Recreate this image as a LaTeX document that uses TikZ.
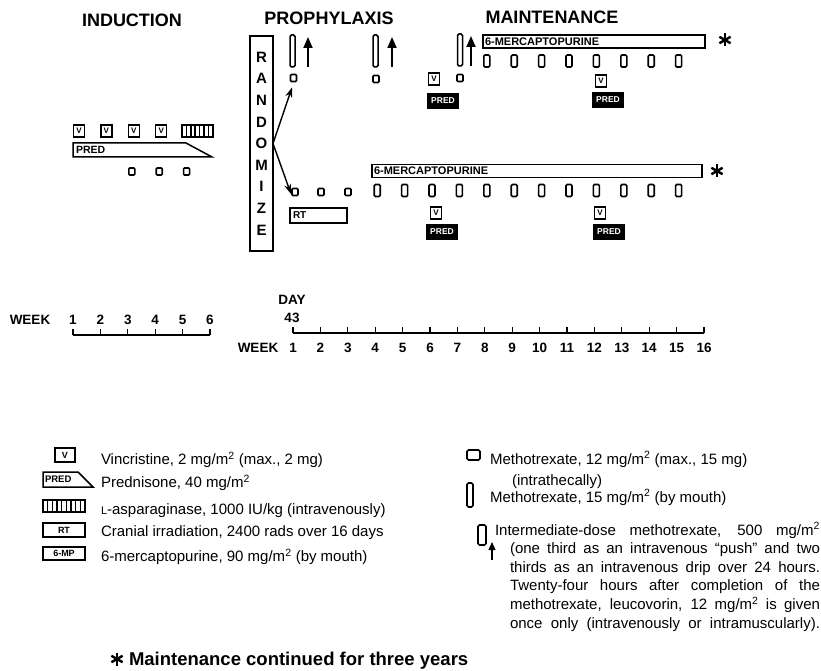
\documentclass[tikz,border=0pt]{standalone}
\usepackage{fontspec}
\setmainfont{Liberation Sans}
\usetikzlibrary{arrows.meta}
\begin{document}
\begin{tikzpicture}[x=1pt,y=-1pt,
  every node/.style={inner sep=0pt, outer sep=0pt},
  ttl/.style={font=\fontsize{18}{18}\selectfont\bfseries},
  axl/.style={font=\fontsize{13.5}{13.5}\selectfont\bfseries},
  leg/.style={font=\fontsize{15}{15}\selectfont, anchor=base west},
  ln/.style={line width=1.5pt},
  vbox/.style={draw, line width=1.4pt, minimum width=11pt, minimum height=12pt, font=\fontsize{8}{8}\selectfont\bfseries},
  predbox/.style={draw, fill=black, text=white, line width=1.2pt, minimum width=30pt, minimum height=15pt, font=\fontsize{8.5}{8.5}\selectfont\bfseries},
  itbox/.style={draw, line width=1.6pt, minimum width=6pt, minimum height=7pt, rounded corners=1pt},
  oralbar/.style={draw, line width=1.6pt, minimum width=6pt, minimum height=12pt, rounded corners=1.2pt},
  tallbar/.style={draw, line width=1.5pt, minimum width=5pt, minimum height=32pt, rounded corners=1.5pt},
  mpbar/.style={draw, line width=1.5pt, minimum height=13pt},
  mplab/.style={font=\fontsize{11}{11}\selectfont\bfseries, anchor=west},
  uparr/.style={line width=1.8pt, -{Triangle[width=9pt,length=11pt]}},
  randarr/.style={line width=1.4pt, -{Stealth[width=7pt,length=10pt]}},
  astline/.style={line width=2.4pt},
]
\useasboundingbox (0,0) rectangle (821,671);

% titles
\node[ttl] (tInd) at (132,20) {INDUCTION};
\node[ttl] (tPro) at (329,18) {PROPHYLAXIS};
\node[ttl] (tMain) at (552,17) {MAINTENANCE};

% ---------- induction ----------
\foreach \w in {1,2,3,4} {
  \pgfmathsetmacro\xx{73+(\w-1)*27.4+6}
  \node[vbox] (iv\w) at (\xx,131) {V};
}
\node[draw, ln, minimum width=31pt, minimum height=12pt] (iasp) at (197.5,131) {};
\foreach \k in {1,...,6}
  \draw[line width=1.6pt] ([xshift=\k*4.4pt]iasp.north west) -- ([xshift=\k*4.4pt]iasp.south west);
\draw[ln] (73,143) -- (186,143) -- (212,157) -- (73,157) -- cycle;
\node[anchor=west, font=\fontsize{10.5}{10.5}\selectfont\bfseries] (ipred) at (76,150) {PRED};
\foreach \w in {3,4,5} {
  \pgfmathsetmacro\xx{73+(\w-1)*27.4+4}
  \node[itbox] (iit\w) at (\xx,171.5) {};
}

% induction axis
\draw[ln] (73,335) -- (210,335);
\foreach \w in {1,...,6} {
  \pgfmathsetmacro\xx{73+(\w-1)*27.4}
  \draw[line width=1.3pt] (\xx,335) -- (\xx,329);
  \node[axl] (iw\w) at (\xx,320) {\w};
}
\node[axl] (iweek) at (30,320) {WEEK};

% ---------- randomize ----------
\node[draw, line width=1.5pt, minimum width=23pt, minimum height=215pt, align=center,
      font=\fontsize{15}{21.6}\selectfont\bfseries] (rand) at (261.5,143.5)
      {R\\A\\N\\D\\O\\M\\I\\Z\\E};

% ---------- upper arm ----------
\node[tallbar] (tb1) at (292.5,51) {};
\node[tallbar] (tb4) at (375.5,51) {};
\node[tallbar] (tb7) at (460,50) {};
\coordinate (a1s) at (308,67); \coordinate (a1e) at (308,37);
\coordinate (a4s) at (392,67); \coordinate (a4e) at (392,37);
\coordinate (a7s) at (471,66); \coordinate (a7e) at (471,36);
\draw[uparr] (a1s) -- (a1e);
\draw[uparr] (a4s) -- (a4e);
\draw[uparr] (a7s) -- (a7e);
\node[itbox] (itU1) at (293.5,78) {};
\node[itbox] (itU4) at (376,79) {};
\node[itbox] (itU7) at (460,78) {};
\node[vbox] (vU6) at (434,79) {V};
\node[predbox] (pU6) at (443,101) {PRED};

\node[mpbar, minimum width=222pt] (mpU) at (594,41.5) {};
\node[mplab] (mpUl) at ([xshift=2pt]mpU.west) {6-MERCAPTOPURINE};
\foreach \w in {8,...,15} {
  \pgfmathsetmacro\xx{293+(\w-1)*27.4+2}
  \node[oralbar] (orU\w) at (\xx,61) {};
}
\node[vbox] (vU12) at (601,81) {V};
\node[predbox] (pU12) at (608,100) {PRED};

% ---------- lower arm ----------
\node[itbox] (itL1) at (295,192) {};
\node[itbox] (itL2) at (321,192) {};
\node[itbox] (itL3) at (348,192) {};
\node[draw, ln, minimum width=57pt, minimum height=15pt] (rt) at (318.5,215.5) {};
\node[font=\fontsize{10}{10}\selectfont\bfseries, anchor=west] (rtl) at ([xshift=3pt]rt.west) {RT};

\node[mpbar, minimum width=330pt] (mpL) at (537,171) {};
\node[mplab] (mpLl) at ([xshift=2pt]mpL.west) {6-MERCAPTOPURINE};
\foreach \w in {4,...,15} {
  \pgfmathsetmacro\xx{293+(\w-1)*27.4+2}
  \node[oralbar] (orL\w) at (\xx,190.5) {};
}
\node[vbox] (vL6) at (436,213) {V};
\node[vbox] (vL12) at (600,213) {V};
\node[predbox] (pL6) at (442,232) {PRED};
\node[predbox] (pL12) at (609,232) {PRED};

% randomization arrows
\draw[randarr] (rand.east) -- ([xshift=-1.5pt,yshift=-6pt]itU1.south);
\draw[randarr] (rand.east) -- ([xshift=-1pt,yshift=-2pt]itL1.west);

% asterisks
\foreach \n/\x/\y in {astU/725/40, astL/717/171, astF/117/659} {
  \coordinate (\n) at (\x,\y);
  \foreach \a in {90,30,150}
    \draw[astline] (\n) ++(\a:6.5pt) -- ++(\a+180:13pt);
}

% maintenance axis
\draw[ln] (293,333) -- (704,333);
\foreach \w in {1,...,16} {
  \pgfmathsetmacro\xx{293+(\w-1)*27.4}
  \draw[line width=1.3pt] (\xx,333) -- (\xx,327);
  \node[axl] (mw\w) at (\xx,348) {\w};
}
\node[axl] (mweek) at (258,348) {WEEK};
\node[axl] (day) at (292,300) {DAY};
\node[axl] (d43) at (292,318) {43};

% ---------- legend left ----------
\node[draw, ln, minimum width=20pt, minimum height=14pt, font=\fontsize{9}{9}\selectfont\bfseries] (lgV) at (65,455) {V};
\draw[ln] (43,472) -- (78,472) -- (93,487) -- (43,487) -- cycle;
\node[anchor=west, font=\fontsize{9.5}{9.5}\selectfont\bfseries] (lgP) at (45,479.5) {PRED};
\node[draw, ln, minimum width=42pt, minimum height=12pt] (lgA) at (64,506) {};
\foreach \k in {1,...,8}
  \draw[line width=1.6pt] ([xshift=\k*4.67pt]lgA.north west) -- ([xshift=\k*4.67pt]lgA.south west);
\node[draw, ln, minimum width=42pt, minimum height=14pt, font=\fontsize{9}{9}\selectfont\bfseries] (lgRT) at (64,530) {RT};
\node[draw, ln, minimum width=42pt, minimum height=13pt, font=\fontsize{9}{9}\selectfont\bfseries] (lgMP) at (64,553.5) {6-MP};

\node[leg] (tV) at (101,464.5) {Vincristine, 2 mg/m\textsuperscript{2} (max., 2 mg)};
\node[leg] (tP) at (101,487.5) {Prednisone, 40 mg/m\textsuperscript{2}};
\node[leg] (tA) at (101,514.5) {{\fontsize{11}{11}\selectfont L}-asparaginase, 1000 IU/kg (intravenously)};
\node[leg] (tR) at (101,536.5) {Cranial irradiation, 2400 rads over 16 days};
\node[leg] (tM) at (101,561.5) {6-mercaptopurine, 90 mg/m\textsuperscript{2} (by mouth)};

% ---------- legend right ----------
\node[draw, line width=1.6pt, rounded corners=1.5pt, minimum width=13pt, minimum height=10pt] (lgIT) at (473.5,455) {};
\node[draw, line width=1.6pt, rounded corners=1.5pt, minimum width=6pt, minimum height=24pt] (lgOral) at (470,495) {};
\node[draw, line width=1.6pt, rounded corners=1.5pt, minimum width=8pt, minimum height=20pt] (lgIDM) at (482,535) {};
\coordinate (lgAs) at (492,560); \coordinate (lgAe) at (492,542);
\draw[line width=1.3pt, -{Triangle[width=7pt,length=8pt]}] (lgAs) -- (lgAe);

\node[leg] (tIT) at (490,464) {Methotrexate, 12 mg/m\textsuperscript{2} (max., 15 mg)};
\node[leg] (tIT2) at (512,485) {(intrathecally)};
\node[leg] (tOr) at (490,502) {Methotrexate, 15 mg/m\textsuperscript{2} (by mouth)};
\node[anchor=base west] (tIDM) at (495,535) {\parbox[t]{325pt}{\fontsize{15}{18.6}\selectfont
  \hangindent=15pt \hangafter=1 \parfillskip=0pt
  Intermediate-dose methotrexate, 500 mg/m\textsuperscript{2}\linebreak
  (one third as an intravenous “push” and two\linebreak
  thirds as an intravenous drip over 24 hours.\linebreak
  Twenty-four hours after completion of the\linebreak
  methotrexate, leucovorin, 12 mg/m\textsuperscript{2} is given\linebreak
  once only (intravenously or intramuscularly).}};

% footnote
\node[anchor=base west, font=\fontsize{18.5}{18.5}\selectfont\bfseries] (foot) at (129,665.5) {Maintenance continued for three years};
\end{tikzpicture}
\end{document}
